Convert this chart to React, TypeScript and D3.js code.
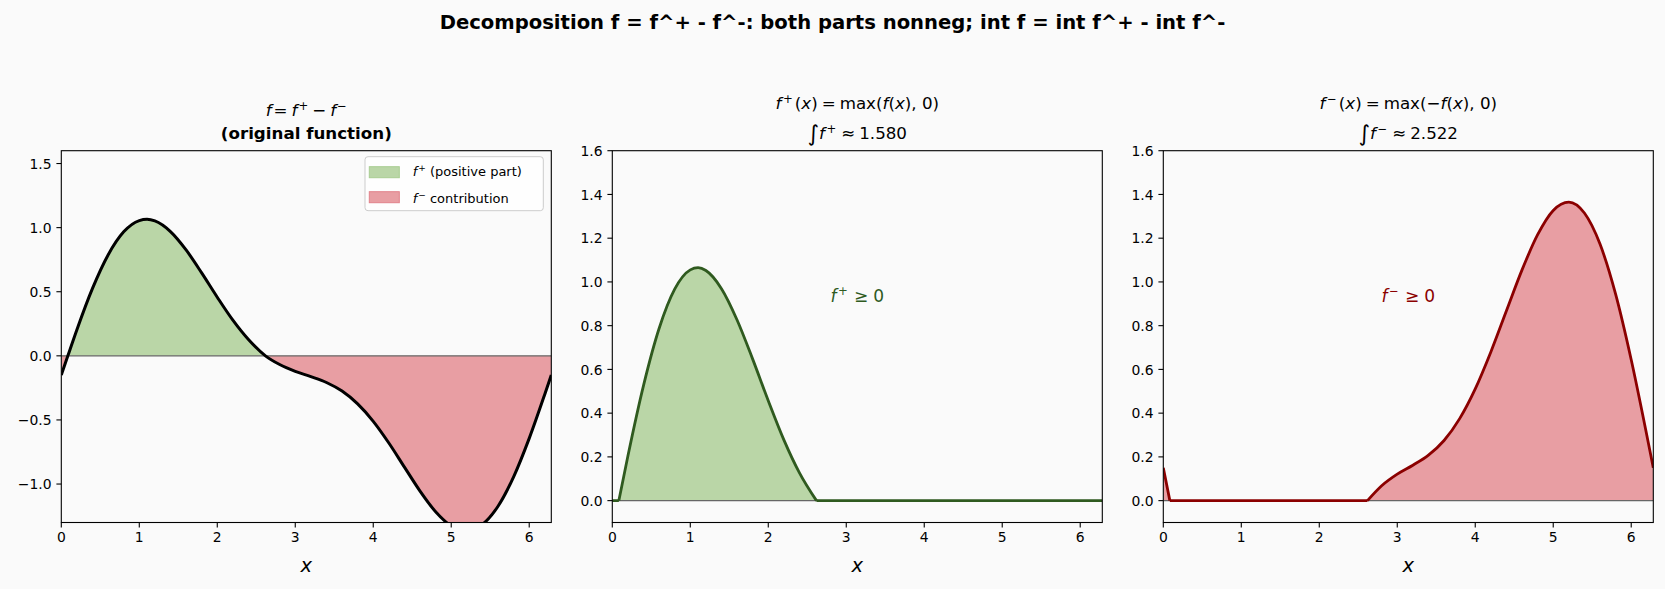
import React from "react";
import * as d3 from "d3";

const X_SAMPLES = [0, 0.084, 0.2, 0.4, 0.6, 0.8, 1.0, 1.1, 1.2, 1.4, 1.6, 1.8, 2.0, 2.2, 2.4, 2.618, 2.8, 3.0, 3.2, 3.4,
  3.6, 3.8, 4.0, 4.2, 4.4, 4.6, 4.8, 5.0, 5.2, 5.4, 5.6, 5.8, 6.0, 6.2, 6.283];
const F_SAMPLES = [-0.15, 0, 0.204, 0.526, 0.787, 0.967, 1.055, 1.065, 1.052, 0.969, 0.826, 0.647, 0.457, 0.278, 0.127, 0,
  -0.068, -0.121, -0.162, -0.208, -0.275, -0.375, -0.511, -0.68, -0.868, -1.055, -1.216, -1.327, -1.365, -1.315, -1.173,
  -0.944, -0.644, -0.299, -0.15];

const X_TICKS = [0, 1, 2, 3, 4, 5, 6];
const F_Y_TICKS = [-1.0, -0.5, 0, 0.5, 1.0, 1.5];
const PART_Y_TICKS = [0, 0.2, 0.4, 0.6, 0.8, 1.0, 1.2, 1.4, 1.6];
const F_Y_LIMITS = [-1.3, 1.6];
const PART_Y_LIMITS = [-0.1, 1.6];
const INT_POS = 1.58;
const INT_NEG = 2.522;

const W = 1665;
const H = 589;
const AX_LEFTS = [61.3, 612.3, 1163.3];
const AX_W = 490;
const AX_TOP = 150.7;
const AX_BOTTOM = 522.5;
const FONT = "'DejaVu Sans', sans-serif";
const BG = "#fafafa";
const GREEN_FILL = "#bad6a7";
const RED_FILL = "#e89ea3";
const GREEN_LINE = "#2f5a1f";
const RED_LINE = "#8b0000";
const TICK_FS = 13.9;
const TITLE_FS = 16.7;
const SUP_FS = 11.7;

const pts = X_SAMPLES.map((x, i) => ({ x, f: F_SAMPLES[i] }));
const fmt1 = (v: number) => (v < 0 ? "\u2212" : "") + Math.abs(v).toFixed(1);

function Axes({ id, left, yLim, yTicks, children }: any) {
  const x = d3.scaleLinear().domain([0, 2 * Math.PI]).range([left, left + AX_W]);
  const y = d3.scaleLinear().domain(yLim).range([AX_BOTTOM, AX_TOP]);
  const cx = left + AX_W / 2;
  return (
    <g>
      <rect x={left} y={AX_TOP} width={AX_W} height={AX_BOTTOM - AX_TOP} fill={BG} />
      <clipPath id={id}>
        <rect x={left} y={AX_TOP} width={AX_W} height={AX_BOTTOM - AX_TOP} />
      </clipPath>
      <g clipPath={`url(#${id})`}>{children(x, y)}</g>
      <rect x={left} y={AX_TOP} width={AX_W} height={AX_BOTTOM - AX_TOP} fill="none" stroke="#000" strokeWidth={1.1} />
      {X_TICKS.map((t) => (
        <g key={"x" + t}>
          <line x1={x(t)} x2={x(t)} y1={AX_BOTTOM} y2={AX_BOTTOM + 4.9} stroke="#000" strokeWidth={1.1} />
          <text x={x(t)} y={AX_BOTTOM + 19.9} textAnchor="middle" fontSize={TICK_FS}>{t}</text>
        </g>
      ))}
      {yTicks.map((t: number) => (
        <g key={"y" + t}>
          <line x1={left - 4.9} x2={left} y1={y(t)} y2={y(t)} stroke="#000" strokeWidth={1.1} />
          <text x={left - 9.8} y={y(t) + 5.1} textAnchor="end" fontSize={TICK_FS}>{fmt1(t)}</text>
        </g>
      ))}
      <text x={cx} y={572} textAnchor="middle" fontSize={19.5} fontStyle="italic">x</text>
    </g>
  );
}

export default function App() {
  const area = (x: any, y: any, val: (d: any) => number, keep: (d: any) => boolean) =>
    d3.area<any>().defined(keep).x((d) => x(d.x)).y0(y(0)).y1((d) => y(val(d))).curve(d3.curveMonotoneX)(pts) || "";
  const line = (x: any, y: any, val: (d: any) => number, keep: (d: any) => boolean) =>
    d3.line<any>().defined(keep).x((d) => x(d.x)).y((d) => y(val(d))).curve(d3.curveMonotoneX)(pts) || "";
  const pos = (d: any) => d.f >= 0;
  const neg = (d: any) => d.f <= 0;
  const cxs = AX_LEFTS.map((l) => l + AX_W / 2);

  return (
    <svg width={W} height={H} style={{ position: "absolute", left: 0, top: 0, display: "block" }}
      fontFamily={FONT} fill="#000">
      <rect width={W} height={H} fill={BG} />
      <text x={W / 2} y={28.5} textAnchor="middle" fontSize={19.6} fontWeight="bold">
        Decomposition f = f^+ - f^-: both parts nonneg; int f = int f^+ - int f^-
      </text>

      {/* left: f itself */}
      <Axes id="clipF" left={AX_LEFTS[0]} yLim={F_Y_LIMITS} yTicks={F_Y_TICKS}>
        {(x: any, y: any) => (
          <g>
            <path d={area(x, y, (d) => d.f, pos)} fill={GREEN_FILL} />
            <path d={area(x, y, (d) => d.f, neg)} fill={RED_FILL} />
            <line x1={x(0)} x2={x(2 * Math.PI)} y1={y(0)} y2={y(0)} stroke="#666" strokeWidth={1.4} />
            <path d={line(x, y, (d) => d.f, () => true)} fill="none" stroke="#000" strokeWidth={3} />
          </g>
        )}
      </Axes>
      <text x={cxs[0]} y={116} textAnchor="middle" fontSize={TITLE_FS}>
        <tspan fontStyle="italic">f</tspan>
        <tspan dx={2}>=</tspan>
        <tspan dx={4} fontStyle="italic">f</tspan>
        <tspan dx={1} dy={-6.5} fontSize={SUP_FS}>+</tspan>
        <tspan dx={4} dy={6.5}>{"\u2212"}</tspan>
        <tspan dx={4} fontStyle="italic">f</tspan>
        <tspan dx={1} dy={-6.5} fontSize={SUP_FS}>{"\u2212"}</tspan>
      </text>
      <text x={cxs[0]} y={139} textAnchor="middle" fontSize={TITLE_FS} fontWeight="bold">(original function)</text>
      <g>
        <rect x={365} y={156.7} width={178.3} height={54} rx={3} fill="#fff" fillOpacity={0.8} stroke="#ccc" />
        <rect x={369.3} y={166.7} width={30} height={11} fill={GREEN_FILL} stroke="#a9cd92" />
        <rect x={369.3} y={191.7} width={30} height={11} fill={RED_FILL} stroke="#e2838b" />
        <text x={412.7} y={176} fontSize={13}>
          <tspan fontStyle="italic">f</tspan>
          <tspan dx={1} dy={-5} fontSize={9}>+</tspan>
          <tspan dy={5}> (positive part)</tspan>
        </text>
        <text x={412.7} y={203} fontSize={13}>
          <tspan fontStyle="italic">f</tspan>
          <tspan dx={1} dy={-5} fontSize={9}>{"\u2212"}</tspan>
          <tspan dy={5}> contribution</tspan>
        </text>
      </g>

      {/* middle: f+ */}
      <Axes id="clipP" left={AX_LEFTS[1]} yLim={PART_Y_LIMITS} yTicks={PART_Y_TICKS}>
        {(x: any, y: any) => (
          <g>
            <path d={area(x, y, (d) => d.f, pos)} fill={GREEN_FILL} />
            <line x1={x(0)} x2={x(2 * Math.PI)} y1={y(0)} y2={y(0)} stroke="#666" strokeWidth={1.4} />
            <path d={line(x, y, (d) => d.f, pos)} fill="none" stroke={GREEN_LINE} strokeWidth={2.8} />
            <path d={line(x, y, () => 0, neg)} fill="none" stroke={GREEN_LINE} strokeWidth={2.8} />
            <text x={x(Math.PI)} y={y(0.9) - 2} textAnchor="middle" fontSize={17} fill={GREEN_LINE}>
              <tspan fontStyle="italic">f</tspan>
              <tspan dx={1.5} dy={-6.5} fontSize={SUP_FS}>+</tspan>
              <tspan dx={6} dy={6.5}>{"\u2265"}</tspan>
              <tspan dx={5}>0</tspan>
            </text>
          </g>
        )}
      </Axes>
      <text x={cxs[1]} y={109} textAnchor="middle" fontSize={TITLE_FS}>
        <tspan fontStyle="italic">f</tspan>
        <tspan dx={1.5} dy={-6.5} fontSize={SUP_FS}>+</tspan>
        <tspan dx={2} dy={6.5}>(</tspan>
        <tspan fontStyle="italic">x</tspan>
        <tspan>)</tspan>
        <tspan dx={4}>=</tspan>
        <tspan dx={4}>max(</tspan>
        <tspan fontStyle="italic">f</tspan>
        <tspan>(</tspan>
        <tspan fontStyle="italic">x</tspan>
        <tspan>), 0)</tspan>
      </text>
      <text x={cxs[1]} y={139} textAnchor="middle" fontSize={TITLE_FS}>
        <tspan fontSize={22} dy={2}>{"\u222B"}</tspan>
        <tspan dy={-2} fontStyle="italic">f</tspan>
        <tspan dx={1.5} dy={-6.5} fontSize={SUP_FS}>+</tspan>
        <tspan dx={5} dy={6.5}>{"\u2248"}</tspan>
        <tspan dx={4}>{INT_POS.toFixed(3)}</tspan>
      </text>

      {/* right: f- */}
      <Axes id="clipN" left={AX_LEFTS[2]} yLim={PART_Y_LIMITS} yTicks={PART_Y_TICKS}>
        {(x: any, y: any) => (
          <g>
            <path d={area(x, y, (d) => -d.f, neg)} fill={RED_FILL} />
            <line x1={x(0)} x2={x(2 * Math.PI)} y1={y(0)} y2={y(0)} stroke="#666" strokeWidth={1.4} />
            <path d={line(x, y, (d) => -d.f, neg)} fill="none" stroke={RED_LINE} strokeWidth={2.8} />
            <path d={line(x, y, () => 0, pos)} fill="none" stroke={RED_LINE} strokeWidth={2.8} />
            <text x={x(Math.PI)} y={y(0.9) - 2} textAnchor="middle" fontSize={17} fill={RED_LINE}>
              <tspan fontStyle="italic">f</tspan>
              <tspan dx={1.5} dy={-6.5} fontSize={SUP_FS}>{"\u2212"}</tspan>
              <tspan dx={6} dy={6.5}>{"\u2265"}</tspan>
              <tspan dx={5}>0</tspan>
            </text>
          </g>
        )}
      </Axes>
      <text x={cxs[2]} y={109} textAnchor="middle" fontSize={TITLE_FS}>
        <tspan fontStyle="italic">f</tspan>
        <tspan dx={1.5} dy={-6.5} fontSize={SUP_FS}>{"\u2212"}</tspan>
        <tspan dx={2} dy={6.5}>(</tspan>
        <tspan fontStyle="italic">x</tspan>
        <tspan>)</tspan>
        <tspan dx={4}>=</tspan>
        <tspan dx={4}>max({"\u2212"}</tspan>
        <tspan fontStyle="italic">f</tspan>
        <tspan>(</tspan>
        <tspan fontStyle="italic">x</tspan>
        <tspan>), 0)</tspan>
      </text>
      <text x={cxs[2]} y={139} textAnchor="middle" fontSize={TITLE_FS}>
        <tspan fontSize={22} dy={2}>{"\u222B"}</tspan>
        <tspan dy={-2} fontStyle="italic">f</tspan>
        <tspan dx={1.5} dy={-6.5} fontSize={SUP_FS}>{"\u2212"}</tspan>
        <tspan dx={5} dy={6.5}>{"\u2248"}</tspan>
        <tspan dx={4}>{INT_NEG.toFixed(3)}</tspan>
      </text>
    </svg>
  );
}
